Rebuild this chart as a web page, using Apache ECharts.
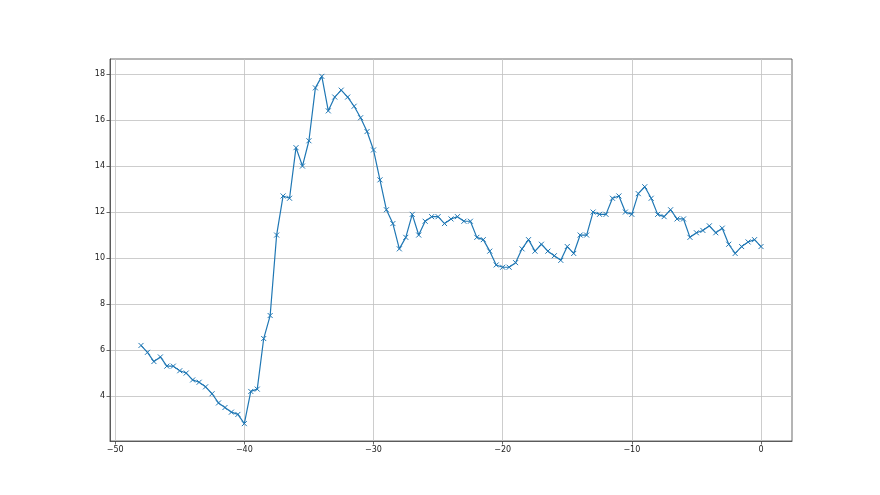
<!DOCTYPE html>
<html>
<head>
<meta charset="utf-8">
<script src="https://cdn.jsdelivr.net/npm/echarts@6/dist/echarts.min.js"></script>
<style>html,body{margin:0;padding:0;background:#fff;}#c{width:880px;height:495px;}</style>
</head>
<body>
<div id="c"></div>
<script>
const xStart = -48;
const xStep = 0.5;
const values = [
  6.2, 5.9, 5.5, 5.7, 5.3, 5.3, 5.1, 5.0, 4.7, 4.6,
  4.4, 4.1, 3.7, 3.5, 3.3, 3.2, 2.8, 4.2, 4.3, 6.5,
  7.5, 11.0, 12.7, 12.6, 14.8, 14.0, 15.1, 17.4, 17.9, 16.4,
  17.0, 17.3, 17.0, 16.6, 16.1, 15.5, 14.7, 13.4, 12.1, 11.5,
  10.4, 10.9, 11.9, 11.0, 11.6, 11.8, 11.8, 11.5, 11.7, 11.8,
  11.6, 11.6, 10.9, 10.8, 10.3, 9.7, 9.6, 9.6, 9.8, 10.4,
  10.8, 10.3, 10.6, 10.3, 10.1, 9.9, 10.5, 10.2, 11.0, 11.0,
  12.0, 11.9, 11.9, 12.6, 12.7, 12.0, 11.9, 12.8, 13.1, 12.6,
  11.9, 11.8, 12.1, 11.7, 11.7, 10.9, 11.1, 11.2, 11.4, 11.1,
  11.3, 10.6, 10.2, 10.5, 10.7, 10.8, 10.5
];
const xTicks = [-50, -40, -30, -20, -10, 0];
const yTicks = [4, 6, 8, 10, 12, 14, 16, 18];

const data = values.map((v, i) => [xStart + i * xStep, v]);
const chart = echarts.init(document.getElementById('c'), null, {renderer: 'canvas'});
const axisFont = {fontFamily: 'DejaVu Sans', fontSize: 8, color: '#222'};
chart.setOption({
  animation: false,
  backgroundColor: '#fff',
  grid: {left: 110, top: 59, width: 682, height: 382, show: true, borderColor: '#444', borderWidth: 0.8, backgroundColor: 'transparent'},
  xAxis: {
    type: 'value', min: -50.4, max: 2.4,
    axisLine: {show: true, onZero: false, lineStyle: {color: '#444', width: 0.8}},
    axisTick: {show: true, customValues: xTicks, length: 3.5, inside: false, lineStyle: {color: '#444', width: 0.8}},
    axisLabel: Object.assign({customValues: xTicks, margin: 5, formatter: v => String(v).replace('-', '\u2212')}, axisFont),
    splitLine: {show: true, lineStyle: {color: '#c0c0c0', width: 0.8}}
  },
  yAxis: {
    type: 'value', min: 2.045, max: 18.655,
    axisLine: {show: true, onZero: false, lineStyle: {color: '#444', width: 0.8}},
    axisTick: {show: true, customValues: yTicks, length: 3.5, inside: false, lineStyle: {color: '#444', width: 0.8}},
    axisLabel: Object.assign({customValues: yTicks, margin: 5}, axisFont),
    splitLine: {show: true, lineStyle: {color: '#c0c0c0', width: 0.8}}
  },
  series: [{
    type: 'line',
    data: data,
    symbol: 'path://M0,0L10,10M10,0L0,10',
    symbolSize: 5,
    showSymbol: true,
    itemStyle: {color: 'rgba(0,0,0,0)', borderColor: '#1f77b4', borderWidth: 1},
    lineStyle: {color: '#1f77b4', width: 1.2},
    z: 3
  }]
});
</script>
</body>
</html>
